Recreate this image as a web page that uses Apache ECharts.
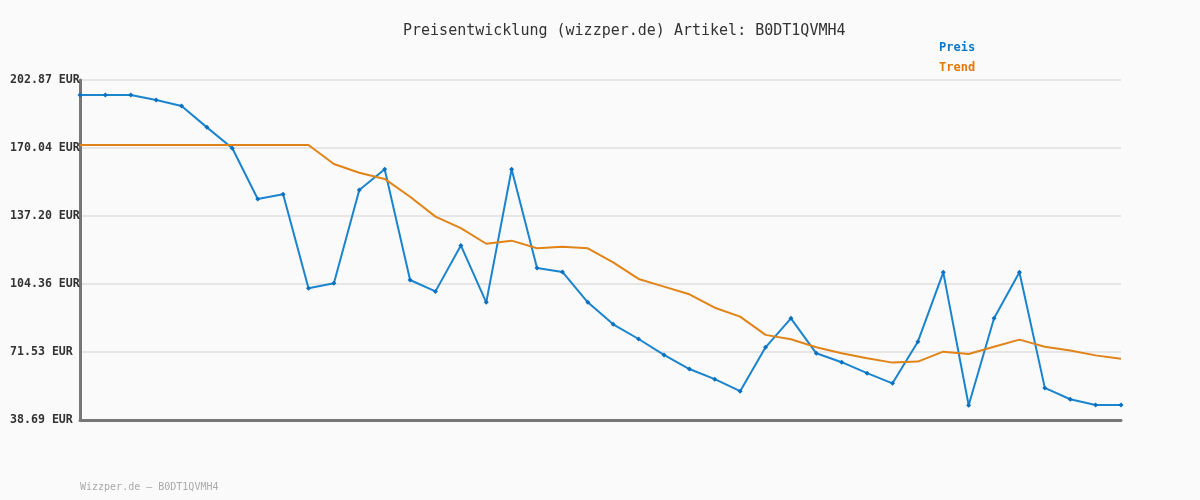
<!DOCTYPE html>
<html>
<head>
<meta charset="utf-8">
<script src="https://cdn.jsdelivr.net/npm/echarts@6/dist/echarts.min.js"></script>
<style>
html,body{margin:0;padding:0;background:#fafafa;}
#c{width:1200px;height:500px;}
</style>
</head>
<body>
<div id="c"></div>
<script>
const categories = Array.from({length: 42}, (_, i) => String(i + 1));
const preis = [195.6, 195.6, 195.6, 193.2, 190.3, 180.0, 169.9, 145.4, 147.7, 102.3,
  104.7, 149.8, 159.8, 106.3, 100.8, 123.0, 95.5, 159.8, 112.1, 110.2,
  95.5, 84.9, 77.8, 70.1, 63.3, 58.4, 52.6, 73.8, 87.8, 70.9,
  66.6, 61.3, 56.4, 76.5, 110.0, 45.8, 87.8, 110.0, 54.2, 48.7,
  45.9, 45.9];
const trend = [171.5, 171.5, 171.5, 171.5, 171.5, 171.5, 171.5, 171.5, 171.5, 171.5,
  162.3, 158.1, 155.1, 146.5, 136.9, 131.3, 123.8, 125.3, 121.6, 122.4,
  121.6, 114.8, 106.8, 103.1, 99.4, 92.9, 88.6, 79.8, 77.7, 73.8,
  70.9, 68.5, 66.4, 66.9, 71.7, 70.6, 74.1, 77.5, 74.1, 72.2,
  69.9, 68.3];
const yTickLabels = ['38.69', '71.53', '104.36', '137.20', '170.04', '202.87'];
const yMin = 38.69;
const yStep = 32.836;

const mono = 'DejaVu Sans Mono';
const chart = echarts.init(document.getElementById('c'));
chart.setOption({
  backgroundColor: '#fafafa',
  animation: false,
  title: {
    text: 'Preisentwicklung (wizzper.de) Artikel: B0DT1QVMH4',
    left: 398, top: 19,
    textStyle: {fontFamily: mono, fontSize: 15, fontWeight: 'normal', color: '#333'}
  },
  legend: {
    orient: 'vertical', left: 929, top: 37, itemGap: 8,
    itemWidth: 0, itemHeight: 0, icon: 'none',
    textStyle: {fontFamily: mono, fontSize: 12, fontWeight: 'bold'},
    data: [
      {name: 'Preis', textStyle: {color: '#0a78c8'}},
      {name: 'Trend', textStyle: {color: '#e07b00'}}
    ]
  },
  grid: {left: 80, right: 79, top: 80, bottom: 80},
  xAxis: {
    type: 'category', data: categories, boundaryGap: false,
    axisLine: {lineStyle: {color: '#777', width: 3}},
    axisTick: {show: false}, axisLabel: {show: false}, splitLine: {show: false}
  },
  yAxis: {
    type: 'value', min: yMin, max: yMin + 5 * yStep, interval: yStep,
    axisLine: {show: true, lineStyle: {color: '#777', width: 3}},
    axisTick: {show: false},
    splitLine: {lineStyle: {color: '#e6e6e6', width: 2}},
    axisLabel: {
      margin: 70, align: 'left',
      fontFamily: mono, fontSize: 11.6, fontWeight: 'bold', color: '#333',
      formatter: (v, i) => yTickLabels[i] + ' EUR'
    }
  },
  series: [
    {
      name: 'Preis', type: 'line', data: preis,
      color: '#0a78c8',
      lineStyle: {width: 2, color: '#1a84cc'},
      symbol: 'diamond', symbolSize: 5, showSymbol: true,
      itemStyle: {color: '#0a70c0'}
    },
    {
      name: 'Trend', type: 'line', data: trend,
      color: '#e07b00',
      lineStyle: {width: 2, color: '#e08418'},
      symbol: 'none'
    }
  ],
  graphic: [{
    type: 'text', left: 80, top: 482,
    style: {text: 'Wizzper.de \u2013 B0DT1QVMH4', fontFamily: mono, fontSize: 10, fill: '#aaa'}
  }]
});
</script>
</body>
</html>
